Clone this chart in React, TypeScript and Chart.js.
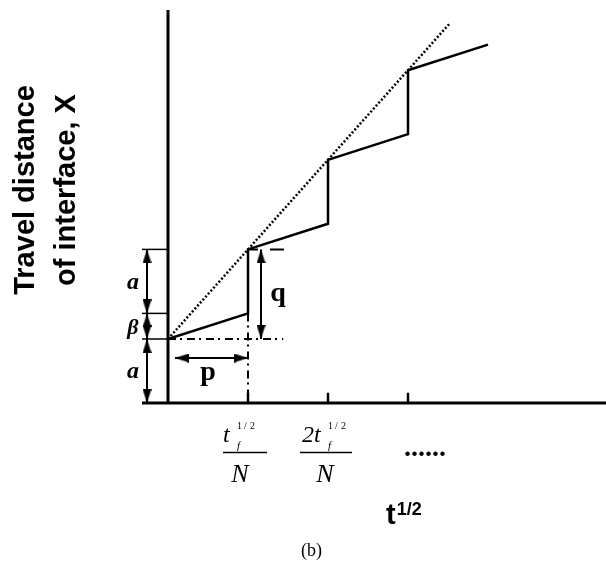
import React, { useEffect, useRef } from "react";
import { Chart, registerables } from "chart.js";
Chart.register(...registerables);

const W = 606;
const H = 561;

// ---- data (x in units of t_f^{1/2}/N, y in units of a) ----
const tickValues = [1, 2, 3];
const stepX = [0, 1, 1, 2, 2, 3, 3, 4];
const stepY = [1, 1.4, 2.4, 2.8, 3.8, 4.2, 5.2, 5.6];
const trendX = [0, 3.525];
const trendY = [1, 5.935];
const aSize = 1;
const betaSize = 0.4;
const pSpan = 1;
const qSpan = aSize + betaSize;
const yLabelLines = ["Travel distance", "of interface, X"];
const xTitle = "t";
const xTitleSup = "1/2";
const caption = "(b)";

// ---- view ----
const X_MIN = -2.1;
const X_MAX = 5.475;
const Y_MIN = -2.469;
const Y_MAX = 6.297;
const xPx = W / (X_MAX - X_MIN);
const yPx = H / (Y_MAX - Y_MIN);
const AXIS_TOP = 6.14;
const AXIS_RIGHT = 5.6;
const DIM_X = -0.2625;
const EXT_X = -0.325;
const P_Y = 0.703;
const P_START = 0.0875;
const Q_X = 1.1625;
const HEAD = 7; // half length of arrow head, px

const pts = (xs: number[], ys: number[]) => xs.map((x, i) => ({ x, y: ys[i] }));

function line(xs: number[], ys: number[], width: number, dash: number[] = []) {
  return {
    type: "scatter" as const,
    data: pts(xs, ys),
    showLine: true,
    borderColor: "#000",
    borderWidth: width,
    borderDash: dash,
    pointRadius: 0,
    pointHoverRadius: 0,
    tension: 0,
    clip: false as const,
  };
}

type Head = { x: number; y: number; r: number };
function vArrow(x: number, y0: number, y1: number): Head[] {
  const d = HEAD / yPx;
  return [
    { x, y: y1 - d, r: 0 },
    { x, y: y0 + d, r: 180 },
  ];
}
function hArrow(y: number, x0: number, x1: number): Head[] {
  const d = HEAD / xPx;
  return [
    { x: x0 + d, y, r: 270 },
    { x: x1 - d, y, r: 90 },
  ];
}

function makeHead(): HTMLCanvasElement {
  const c = document.createElement("canvas");
  c.width = 9;
  c.height = 14;
  const g = c.getContext("2d")!;
  g.fillStyle = "#000";
  g.beginPath();
  g.moveTo(4.5, 0);
  g.lineTo(9, 14);
  g.lineTo(0, 14);
  g.closePath();
  g.fill();
  return c;
}

const textPlugin = {
  id: "diagramText",
  afterDraw(chart: any) {
    const ctx: CanvasRenderingContext2D = chart.ctx;
    const xs = chart.scales.x;
    const ys = chart.scales.y;
    ctx.save();
    ctx.fillStyle = "#000";
    ctx.strokeStyle = "#000";
    ctx.textBaseline = "alphabetic";

    // y-axis label (rotated)
    ctx.font = "bold 29px 'Liberation Sans', Arial, sans-serif";
    ctx.textAlign = "center";
    const lx = [34, 75];
    yLabelLines.forEach((t, i) => {
      ctx.save();
      ctx.translate(lx[i], 190);
      ctx.rotate(-Math.PI / 2);
      ctx.fillText(t, 0, 0);
      ctx.restore();
    });

    // dimension labels
    ctx.font = "italic bold 24px 'Liberation Serif', 'Times New Roman', serif";
    ctx.textAlign = "center";
    const lab = (s: string, y: number, dy: number) =>
      ctx.fillText(s, 133, ys.getPixelForValue(y) + dy);
    lab("a", aSize + betaSize + aSize / 2, 8);
    lab("a", aSize / 2, 7);
    ctx.font = "italic bold 22px 'Liberation Serif', 'Times New Roman', serif";
    lab("β", aSize + betaSize / 2, 8);

    ctx.font = "bold 28px 'Liberation Serif', 'Times New Roman', serif";
    ctx.fillText("p", xs.getPixelForValue(0.5), ys.getPixelForValue(P_Y) + 22);
    ctx.fillText("q", xs.getPixelForValue(Q_X) + 17, ys.getPixelForValue(aSize + qSpan / 2) + 7);

    // tick fraction labels
    const frac = (tick: number, pre: string, numL: number, supL: number, barL: number, barR: number, nC: number) => {
      const cx = xs.getPixelForValue(tick);
      ctx.textAlign = "left";
      ctx.font = "italic 24px 'Liberation Serif', 'Times New Roman', serif";
      ctx.fillText(pre, cx + numL, 442);
      ctx.font = "italic 11px 'Liberation Serif', 'Times New Roman', serif";
      ctx.fillText("f", cx + supL, 449);
      ctx.font = "10px 'Liberation Serif', 'Times New Roman', serif";
      ctx.fillText("1", cx + supL, 429);
      ctx.fillText("/", cx + supL + 7, 429);
      ctx.fillText("2", cx + supL + 13, 429);
      ctx.lineWidth = 1.3;
      ctx.beginPath();
      ctx.moveTo(cx + barL, 452.5);
      ctx.lineTo(cx + barR, 452.5);
      ctx.stroke();
      ctx.textAlign = "center";
      ctx.font = "italic 26px 'Liberation Serif', 'Times New Roman', serif";
      ctx.fillText("N", cx + nC, 482);
    };
    frac(tickValues[0], "t", -25, -11, -25, 19, -8);
    frac(tickValues[1], "2t", -26, 0, -28, 24, -3);

    // continuation dots
    ctx.textAlign = "left";
    ctx.font = "bold 28px 'Liberation Serif', 'Times New Roman', serif";
    ctx.fillText("......", xs.getPixelForValue(tickValues[2]) - 4, 456);

    // x title
    ctx.font = "bold 29px 'Liberation Sans', Arial, sans-serif";
    ctx.fillText(xTitle, 386, 524);
    const tw = ctx.measureText(xTitle).width;
    ctx.font = "bold 18px 'Liberation Sans', Arial, sans-serif";
    ctx.fillText(xTitleSup, 386 + tw + 1, 515);

    // caption
    ctx.font = "18px 'Liberation Serif', 'Times New Roman', serif";
    ctx.fillText(caption, 301, 556);
    ctx.restore();
  },
};

export default function App() {
  const ref = useRef<HTMLCanvasElement>(null);
  useEffect(() => {
    if (!ref.current) return;
    const head = makeHead();
    const heads: Head[] = [
      ...vArrow(DIM_X, aSize + betaSize, aSize + betaSize + aSize),
      ...vArrow(DIM_X, aSize, aSize + betaSize),
      ...vArrow(DIM_X, 0, aSize),
      ...vArrow(Q_X, aSize, aSize + qSpan),
      ...hArrow(P_Y, P_START, pSpan),
    ];
    const top = aSize + betaSize + aSize;
    const datasets: any[] = [
      // axes
      line([0, 0], [0, AXIS_TOP], 3),
      line([EXT_X, AXIS_RIGHT], [0, 0], 3),
      ...tickValues.map((t) => line([t, t], [0, 0.16], 2.5)),
      // staircase and trend
      line(stepX, stepY, 2.5),
      line(trendX, trendY, 2.5, [2, 2]),
      // construction lines
      line([0, 1.44], [aSize, aSize], 2, [8, 4, 2, 5]),
      line([pSpan, pSpan], [aSize + betaSize, 0], 2, [8, 4, 2, 5]),
      line([pSpan, 1.475], [top, top], 2, [10, 12, 14, 20]),
      line([EXT_X, 0], [top, top], 1.5),
      line([EXT_X, 0], [aSize + betaSize, aSize + betaSize], 1.5),
      line([EXT_X, 0], [aSize, aSize], 1.5),
      // dimension arrows
      line([DIM_X, DIM_X], [0, top], 2),
      line([Q_X, Q_X], [aSize, aSize + qSpan], 2),
      line([P_START, pSpan], [P_Y, P_Y], 2),
      {
        type: "scatter",
        data: heads.map((h) => ({ x: h.x, y: h.y })),
        pointStyle: head,
        pointRotation: heads.map((h) => h.r),
        pointRadius: 7,
        pointHoverRadius: 7,
        showLine: false,
        clip: false,
      },
    ];
    const chart = new Chart(ref.current, {
      type: "scatter",
      data: { datasets },
      options: {
        animation: false,
        responsive: false,
        events: [],
        layout: { padding: 0, autoPadding: false },
        plugins: { legend: { display: false }, tooltip: { enabled: false }, title: { display: false } },
        scales: {
          x: { type: "linear", min: X_MIN, max: X_MAX, display: false },
          y: { type: "linear", min: Y_MIN, max: Y_MAX, display: false },
        },
      },
      plugins: [textPlugin],
    });
    return () => chart.destroy();
  }, []);
  return (
    <div style={{ position: "absolute", left: 0, top: 0, width: W, height: H, background: "#fff" }}>
      <canvas ref={ref} width={W} height={H} style={{ display: "block" }} />
    </div>
  );
}
